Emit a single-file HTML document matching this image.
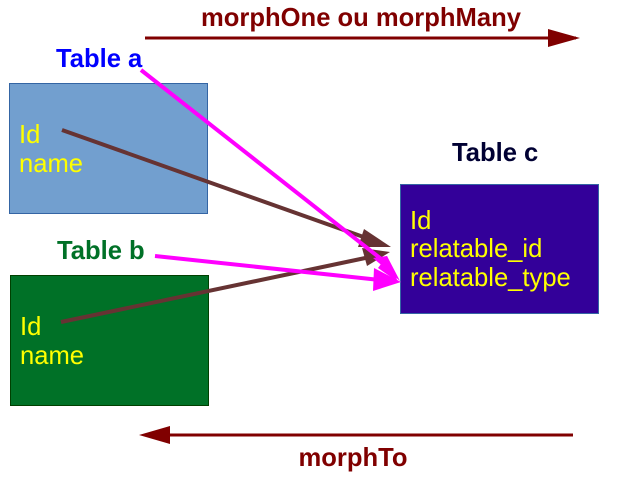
<!DOCTYPE html>
<html><head><style>
body{margin:0;background:#fff;width:617px;height:479px;overflow:hidden}
svg{display:block}
text{font-family:"Liberation Sans",sans-serif}
</style></head><body>
<svg width="617" height="479" viewBox="0 0 617 479">
<text x="361" y="26" font-size="25.6" font-weight="bold" fill="#800000" text-anchor="middle">morphOne ou morphMany</text>
<line x1="145" y1="38" x2="576" y2="38" stroke="#800000" stroke-width="3"/>
<path d="M548,29 L580,38 L548,47 z" fill="#800000"/>
<text x="353" y="466" font-size="25.6" font-weight="bold" fill="#800000" text-anchor="middle">morphTo</text>
<line x1="573" y1="435" x2="165" y2="435" stroke="#800000" stroke-width="3"/>
<path d="M170,426 L139,435 L170,444 z" fill="#800000"/>
<rect x="9.5" y="83.5" width="198" height="130" fill="#729fcf" stroke="#3465a4"/>
<text x="19" y="143" font-size="25.6" fill="#ffff00">Id</text>
<text x="19" y="172" font-size="25.6" fill="#ffff00">name</text>
<rect x="10.5" y="275.5" width="198" height="130" fill="#007127" stroke="#004000"/>
<text x="20" y="335" font-size="25.6" fill="#ffff00">Id</text>
<text x="20" y="364" font-size="25.6" fill="#ffff00">name</text>
<rect x="400.5" y="184.5" width="198" height="129" fill="#330099" stroke="#3465a4"/>
<text x="410" y="229" font-size="25.6" fill="#ffff00">Id</text>
<text x="410" y="257" font-size="25.6" fill="#ffff00">relatable_id</text>
<text x="410" y="286" font-size="25.6" fill="#ffff00">relatable_type</text>
<text x="56" y="67" font-size="25.6" font-weight="bold" fill="#0000ff">Table a</text>
<text x="57" y="259" font-size="25.6" font-weight="bold" fill="#007127">Table b</text>
<text x="452" y="161" font-size="25.6" font-weight="bold" fill="#000033">Table c</text>
<line x1="62" y1="130" x2="372" y2="240" stroke="#663333" stroke-width="4"/>
<path d="M364,229 L391,247 L358,247 z" fill="#663333"/>
<line x1="61" y1="322" x2="370" y2="257" stroke="#663333" stroke-width="4"/>
<path d="M362,248 L390,252 L367,266 z" fill="#663333"/>
<line x1="141" y1="70" x2="385" y2="262" stroke="#ff00ff" stroke-width="4"/>
<path d="M373,258 L387,256 L400,281 z" fill="#ff00ff"/>
<path d="M398,282 L378,268 L387,256 z" fill="#ff00ff"/>
<line x1="155" y1="256" x2="380" y2="280" stroke="#ff00ff" stroke-width="4"/>
<path d="M374,268 L401,282 L373,291 z" fill="#ff00ff"/>
</svg>
</body></html>
